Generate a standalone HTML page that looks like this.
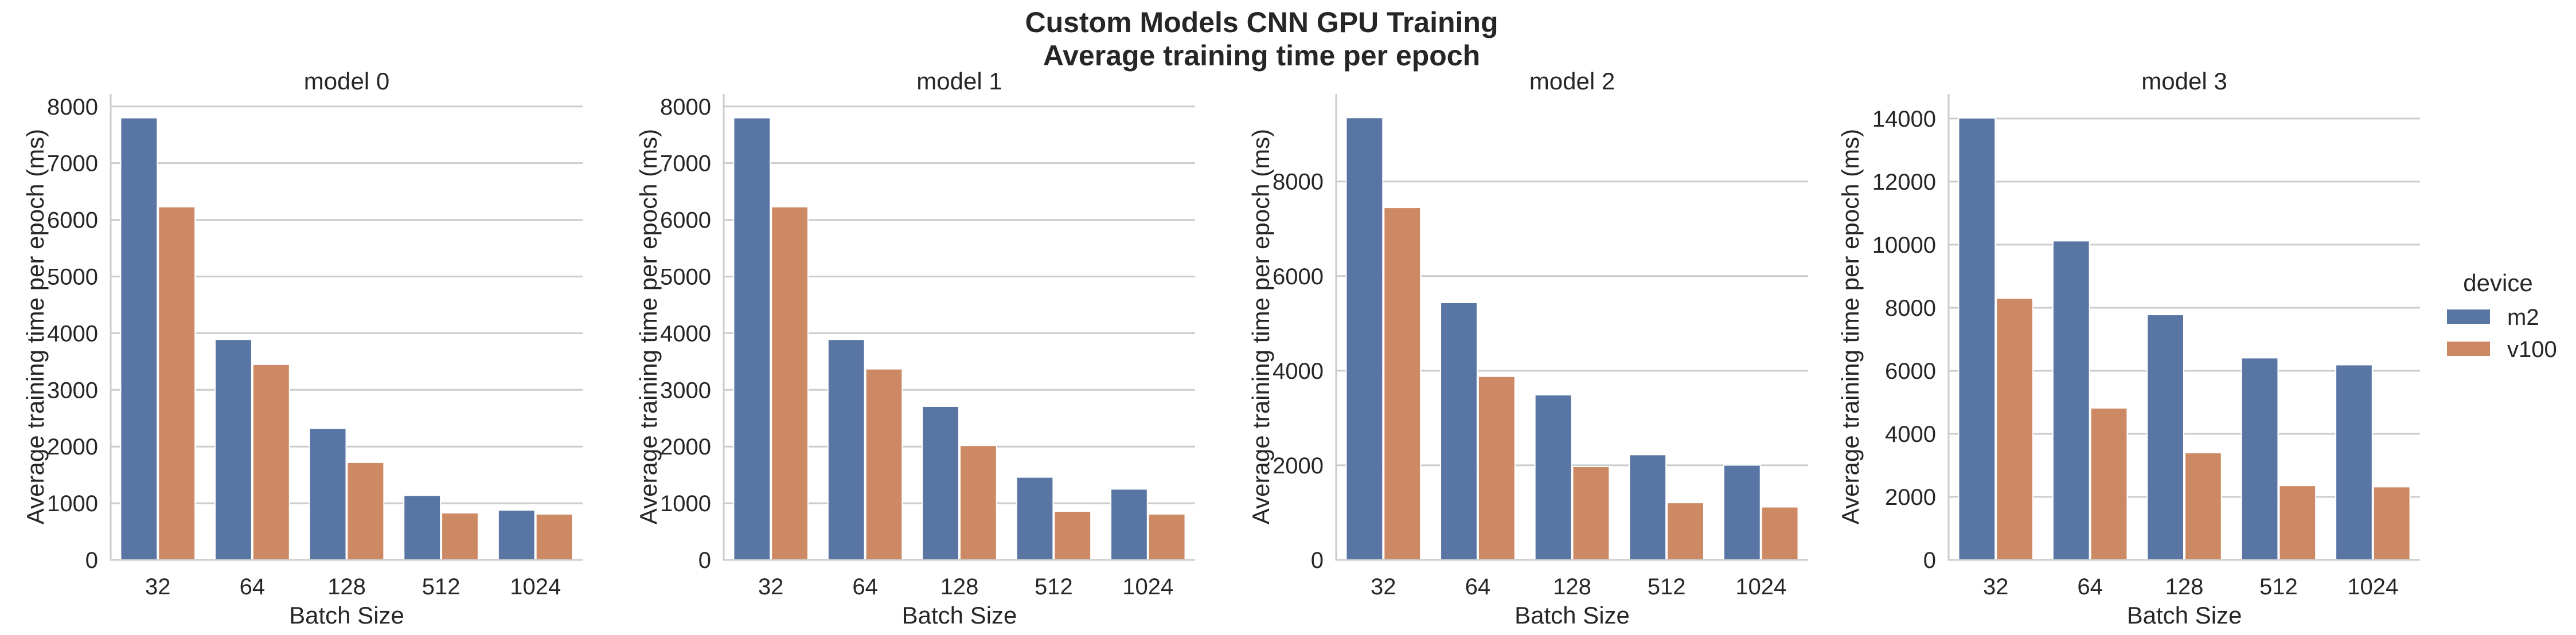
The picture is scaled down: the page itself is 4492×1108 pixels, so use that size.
<!DOCTYPE html>
<html><head><meta charset="utf-8"><style>
html,body{margin:0;padding:0;background:#fff;}
svg{display:block;font-family:"Liberation Sans",Arial,sans-serif;}
</style></head><body>
<svg id="chart" width="4492" height="1108" viewBox="0 0 4492 1108" xmlns="http://www.w3.org/2000/svg">
<text x="2200" y="56" text-anchor="middle" font-size="50" font-weight="bold" fill="#262626">Custom Models CNN GPU Training</text>
<text x="2200" y="114" text-anchor="middle" font-size="50" font-weight="bold" fill="#262626">Average training time per epoch</text>
<g id="panels"></g>
<g>
<text x="4356" y="508" text-anchor="middle" font-size="42" fill="#262626">device</text>
<rect x="4267" y="540" width="75" height="25" fill="#5875a4"/>
<text x="4372" y="567" font-size="40" fill="#262626">m2</text>
<rect x="4267" y="596" width="75" height="25" fill="#cc8963"/>
<text x="4372" y="623" font-size="40" fill="#262626">v100</text>
</g>
</svg>
<script>
const categories = ["32","64","128","512","1024"];
const panelTitles = ["model 0","model 1","model 2","model 3"];
const m2Model0 = [7800,3890,2320,1140,880];
const v100Model0 = [6230,3450,1720,830,810];
const m2Model1 = [7800,3890,2710,1460,1250];
const v100Model1 = [6230,3370,2020,860,810];
const m2Model2 = [9350,5440,3490,2225,2005];
const v100Model2 = [7450,3880,1975,1210,1120];
const m2Model3 = [14020,10120,7780,6410,6190];
const v100Model3 = [8300,4820,3400,2360,2320];
const yMaxes = [8220,8220,9850,14780];
const yTicks0 = [0,1000,2000,3000,4000,5000,6000,7000,8000];
const yTicks1 = [0,1000,2000,3000,4000,5000,6000,7000,8000];
const yTicks2 = [0,2000,4000,6000,8000];
const yTicks3 = [0,2000,4000,6000,8000,10000,12000,14000];

const m2s=[m2Model0,m2Model1,m2Model2,m2Model3];
const v100s=[v100Model0,v100Model1,v100Model2,v100Model3];
const ticks=[yTicks0,yTicks1,yTicks2,yTicks3];
const lefts=[193,1262,2330,3398], rights=[1016,2084,3153,4220];
const yBottom=977, yTop=164;
const NS="http://www.w3.org/2000/svg";
const root=document.getElementById('panels');
function mk(tag,attrs,parent){const e=document.createElementNS(NS,tag);for(const k in attrs)e.setAttribute(k,attrs[k]);parent.appendChild(e);return e;}
for(let p=0;p<4;p++){
  const g=mk('g',{},root);
  
  
  const L=lefts[p],R=rights[p],W=R-L,cw=W/categories.length;
  const yScale=v=>yBottom-(v/yMaxes[p])*(yBottom-yTop);
  const xCenter=i=>L+cw*(i+0.5);
  ticks[p].forEach(t=>{
    const y=yScale(t);
    if(t>0){const gl=mk('line',{x1:L,x2:R,y1:y,y2:y,stroke:'#cccccc','stroke-width':3},g);
    
    }
    const tl=mk('text',{x:L-22,y:y+14,'text-anchor':'end','font-size':40,fill:'#262626'},g);
    tl.textContent=t;
    
    
  });
  const bw=cw*0.4;
  categories.forEach((c,i)=>{
    const vals=[m2s[p][i],v100s[p][i]],cols=['#5875a4','#cc8963'],nm=['m2','v100'];
    for(let s=0;s<2;s++){
      const x=xCenter(i)-bw+s*bw,y=yScale(vals[s]);
      const b=mk('rect',{x:x+1,y:y,width:bw-2,height:yBottom-y,fill:cols[s],stroke:'#ffffff','stroke-width':2},g);
      
      
    }
    const xl=mk('text',{x:xCenter(i),y:1037,'text-anchor':'middle','font-size':40,fill:'#262626'},g);
    xl.textContent=c;
    
    
  });
  const sp1=mk('line',{x1:L,x2:L,y1:yTop,y2:yBottom+1.5,stroke:'#cccccc','stroke-width':3},g);
  
  
  const sp2=mk('line',{x1:L-1.5,x2:R,y1:yBottom,y2:yBottom,stroke:'#cccccc','stroke-width':3},g);
  
  
  const xt=mk('text',{x:(L+R)/2,y:1088,'text-anchor':'middle','font-size':42,fill:'#262626'},g);
  xt.textContent='Batch Size';
  
  
  const yx=(p===3?3227:L-131)+14;
  const yt=mk('text',{x:yx,y:570,'text-anchor':'middle','font-size':42,fill:'#262626',transform:`rotate(-90 ${yx} 570)`},g);
  yt.textContent='Average training time per epoch (ms)';
  
  
  const pt=mk('text',{x:(L+R)/2,y:156,'text-anchor':'middle','font-size':42,fill:'#262626'},g);
  pt.textContent=panelTitles[p];
  
  
}
</script>
</body></html>
